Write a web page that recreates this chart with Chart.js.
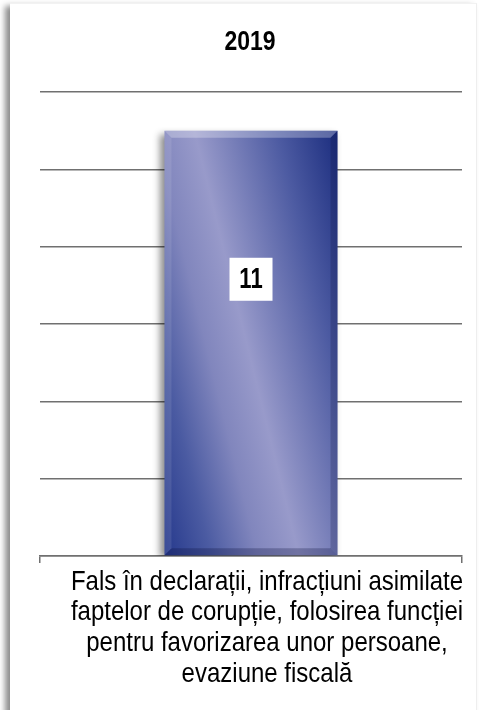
<!DOCTYPE html>
<html lang="ro">
<head>
    <meta charset="utf-8">
    <title>2019</title>
    <script src="https://cdn.jsdelivr.net/npm/chart.js"></script>
    <style>
        html, body { margin: 0; padding: 0; background: #fff; }
        #frame {
            position: absolute; left: 10px; top: 3px; width: 466px; height: 710px;
            background: #fff; border-top: 1px solid #f2f2f2; border-right: 1px solid #eee;
            box-shadow: -5px 3px 6px rgba(0,0,0,0.45);
        }
        #wrap { position: absolute; left: 0; top: 0; width: 480px; height: 710px; }
    </style>
</head>
<body>
    <div id="frame"></div>
    <div id="wrap"><canvas id="myChart"></canvas></div>
    <script>
        // data
        var title = '2019';
        var categories = [
            ['Fals în declarații, infracțiuni asimilate',
             'faptelor de corupție, folosirea funcției',
             'pentru favorizarea unor persoane,',
             'evaziune fiscală']
        ];
        var counts = [11];
        var yTicks = [0, 2, 4, 6, 8, 10, 12];

        var fontFam = "'Liberation Sans', Arial, sans-serif";
        var barPct = 0.41;

        // the original text is drawn a little taller than it is wide
        function tallText(ctx, text, x, y, font, sy) {
            ctx.save();
            ctx.font = font;
            ctx.textAlign = 'center';
            ctx.textBaseline = 'middle';
            ctx.fillStyle = '#000';
            ctx.scale(1, sy);
            ctx.fillText(text, x, y / sy);
            ctx.restore();
        }

        function barFill(c) {
            var chart = c.chart, a = chart.chartArea;
            if (!a) return '#2a3c8c';
            var x = chart.scales.x.getPixelForValue(c.dataIndex);
            var top = chart.scales.y.getPixelForValue(counts[c.dataIndex]);
            var base = chart.scales.y.getPixelForValue(0);
            var w = (a.right - a.left) * barPct;
            // light band runs from upper left to lower right
            var cx = x + w * 0.02, cy = (top + base) / 2;
            var dx = 0.971, dy = -0.239;
            var g = chart.ctx.createLinearGradient(cx - 150 * dx, cy - 150 * dy, cx + 135 * dx, cy + 135 * dy);
            g.addColorStop(0, '#1b2f86');
            g.addColorStop(0.2, '#4b5ba2');
            g.addColorStop(0.36, '#8186bd');
            g.addColorStop(0.5, '#989aca');
            g.addColorStop(0.78, '#4d5ba2');
            g.addColorStop(1, '#182a7c');
            return g;
        }

        var barLook = {
            id: 'barLook',
            beforeDatasetsDraw: function (chart) {
                var ctx = chart.ctx;
                ctx.save();
                ctx.shadowColor = 'rgba(0,0,0,0.45)';
                ctx.shadowBlur = 7;
                ctx.shadowOffsetX = -4;
                ctx.shadowOffsetY = 3;
            },
            afterDatasetsDraw: function (chart) {
                var ctx = chart.ctx;
                ctx.restore();
                var meta = chart.getDatasetMeta(0);
                meta.data.forEach(function (el, i) {
                    var L = el.x - el.width / 2, R = el.x + el.width / 2, T = el.y, B = el.base, e = 7;
                    ctx.save();
                    // bevel
                    ctx.fillStyle = 'rgba(255,255,255,0.28)';
                    ctx.beginPath(); ctx.moveTo(L, T); ctx.lineTo(R, T); ctx.lineTo(R - e, T + e); ctx.lineTo(L + e, T + e); ctx.closePath(); ctx.fill();
                    ctx.fillStyle = 'rgba(10,15,60,0.28)';
                    ctx.beginPath(); ctx.moveTo(L, B); ctx.lineTo(R, B); ctx.lineTo(R - e, B - e); ctx.lineTo(L + e, B - e); ctx.closePath(); ctx.fill();
                    ctx.fillStyle = 'rgba(10,15,60,0.22)';
                    ctx.beginPath(); ctx.moveTo(R, T); ctx.lineTo(R, B); ctx.lineTo(R - e, B - e); ctx.lineTo(R - e, T + e); ctx.closePath(); ctx.fill();
                    ctx.fillStyle = 'rgba(255,255,255,0.1)';
                    ctx.beginPath(); ctx.moveTo(L, T); ctx.lineTo(L, B); ctx.lineTo(L + e, B - e); ctx.lineTo(L + e, T + e); ctx.closePath(); ctx.fill();
                    // value label in a white box
                    var ly = T + (B - T) * 0.35;
                    ctx.fillStyle = '#fff';
                    ctx.fillRect(el.x - 21.5, ly - 21.5, 43, 43);
                    ctx.restore();
                    tallText(ctx, String(counts[i]), el.x, ly + 1, 'bold 22px ' + fontFam, 1.3);
                });
            },
            afterDraw: function (chart) {
                var ctx = chart.ctx, a = chart.chartArea, xs = chart.scales.x;
                tallText(ctx, title, (a.left + a.right) / 2 - 1, 42, 'bold 23px ' + fontFam, 1.2);
                categories.forEach(function (lines, i) {
                    var cx = xs.getPixelForTick(i) + 16;
                    lines.forEach(function (line, k) {
                        tallText(ctx, line, cx, xs.top + 26 + k * 30.7, '24px ' + fontFam, 1.17);
                    });
                });
            }
        };

        var ctx = document.getElementById('myChart').getContext('2d');
        var myChart = new Chart(ctx, {
            type: 'bar',
            data: {
                labels: categories,
                datasets: [{
                    data: counts,
                    backgroundColor: barFill,
                    borderWidth: 0,
                    barPercentage: barPct,
                    categoryPercentage: 1
                }]
            },
            plugins: [barLook],
            options: {
                responsive: true,
                maintainAspectRatio: false,
                animation: false,
                layout: { padding: { top: 92, left: 40, right: 18, bottom: 147 } },
                plugins: {
                    legend: { display: false },
                    tooltip: { enabled: false },
                    title: { display: false }
                },
                scales: {
                    x: {
                        grid: { display: true, drawOnChartArea: false, drawTicks: true, tickLength: 7, color: '#707070', lineWidth: 1.5, offset: true },
                        border: { display: true, color: '#707070', width: 1.5 },
                        ticks: { display: false }
                    },
                    y: {
                        min: yTicks[0],
                        max: yTicks[yTicks.length - 1],
                        ticks: { display: false, stepSize: yTicks[1] - yTicks[0] },
                        grid: { color: '#707070', lineWidth: 1.5, drawTicks: false },
                        border: { display: false }
                    }
                }
            }
        });
    </script>
</body>
</html>
